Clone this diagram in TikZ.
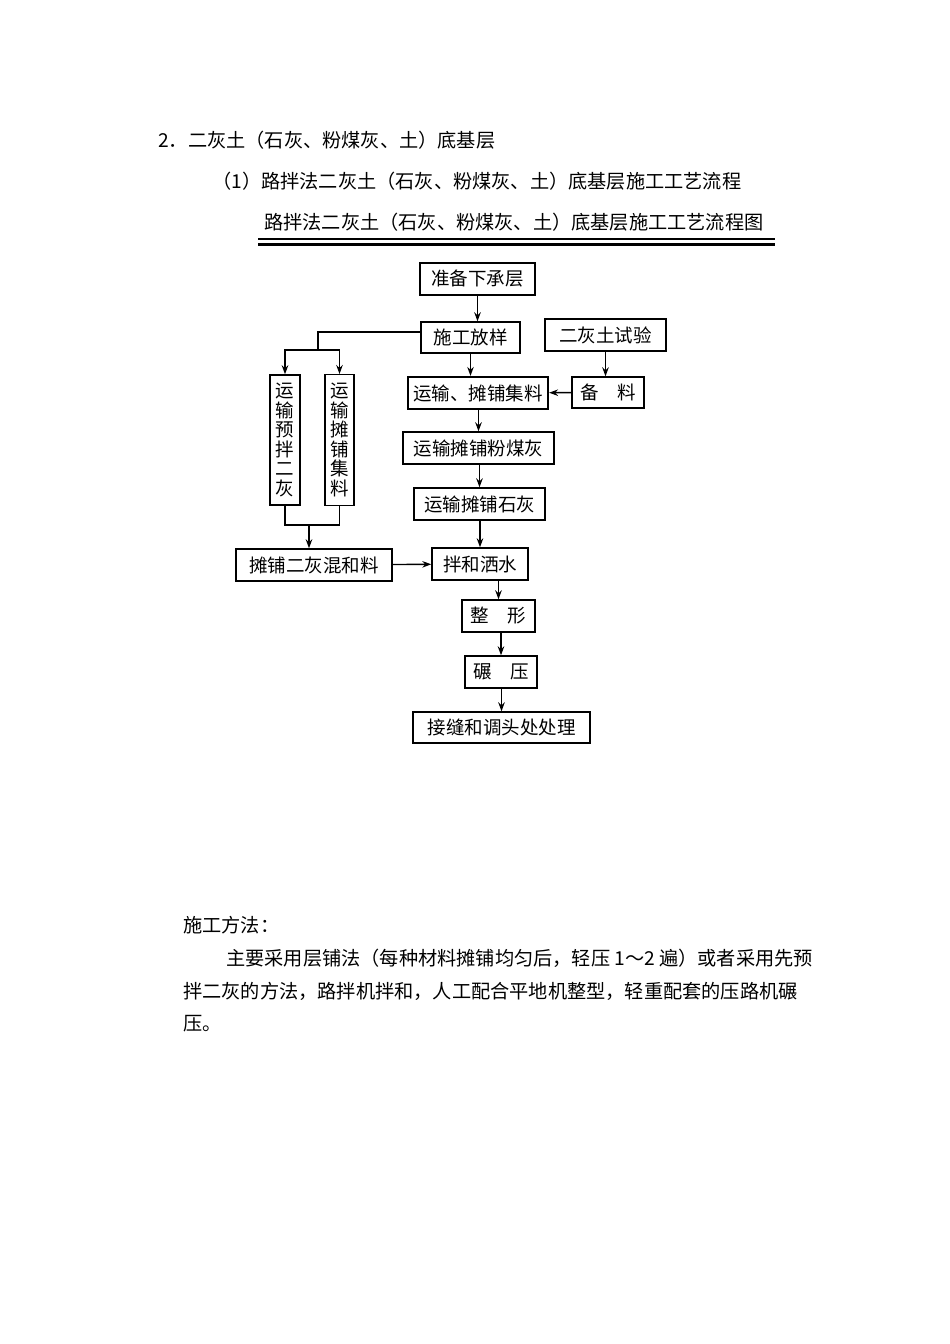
\documentclass[tikz,border=0pt]{standalone}
\usepackage{fontspec}
\setmainfont{Noto Sans CJK SC}
\usetikzlibrary{arrows.meta}
\begin{document}
\begin{tikzpicture}[x=1pt,y=-1pt,
  bx/.style={draw,line width=1.4pt,inner sep=0pt,font=\fontsize{18.5}{18.5}\selectfont},
  txt/.style={anchor=west,inner sep=0pt,font=\fontsize{19.2}{19.2}\selectfont},
  ar/.style={-{Stealth[length=9pt,width=6.5pt]},line width=1.4pt},
  ln/.style={line width=1.4pt}]
\useasboundingbox (0,0) rectangle (950,1344);
\node[txt] (h1) at (158,140) {2．二灰土（石灰、粉煤灰、土）底基层};
\node[txt] (h2) at (212,181) {（1）路拌法二灰土（石灰、粉煤灰、土）底基层施工工艺流程};
\node[txt] (h3) at (264,222) {路拌法二灰土（石灰、粉煤灰、土）底基层施工工艺流程图};
\draw[line width=1.2pt] (258,239) -- (775,239);
\draw[line width=3pt] (258,244) -- (775,244);
\node[bx,minimum width=115,minimum height=32] (a) at (477.5,279) {准备下承层};
\node[bx,minimum width=99,minimum height=31] (b) at (470.5,337.5) {施工放样};
\node[bx,minimum width=121,minimum height=32] (c) at (605.5,335) {二灰土试验};
\node[bx,line width=2.2pt,minimum width=140,minimum height=32] (d) at (478,393) {运输、摊铺集料};
\node[bx,minimum width=72,minimum height=31] (e) at (608,392.5) {备\quad 料};
\node[bx,minimum width=151,minimum height=32] (f) at (478.5,448) {运输摊铺粉煤灰};
\node[bx,minimum width=131,minimum height=32] (g) at (479.5,504) {运输摊铺石灰};
\node[bx,minimum width=96,minimum height=32] (h) at (480,564) {拌和洒水};
\node[bx,minimum width=156,minimum height=32] (k) at (314,565) {摊铺二灰混和料};
\node[bx,minimum width=30,minimum height=130,align=center] (v1) at (285,440) {运\\[1pt]输\\[1pt]预\\[1pt]拌\\[1pt]二\\[1pt]灰};
\node[bx,minimum width=29,minimum height=131,align=center,anchor=north] (v2) at (339.5,374) {运\\[1pt]输\\[1pt]摊\\[1pt]铺\\[1pt]集\\[1pt]料};
\node[bx,minimum width=73,minimum height=32] (m) at (498.5,616) {整\quad 形};
\node[bx,minimum width=72,minimum height=32] (n) at (501,672) {碾\quad 压};
\node[bx,minimum width=177,minimum height=31] (p) at (501.5,727.5) {接缝和调头处处理};
\draw[ar] (a) -- (a|-b.north);
\draw[ar] (b) -- (b|-d.north);
\draw[ar] (c) -- (c|-e.north);
\draw[ar] (e) -- (d);
\draw[ar] (d.south-|f) -- (f);
\draw[ar] (f.south-|g) -- (g);
\draw[ar] (g.south-|h) -- (h);
\draw[ar] (h.south-|m) -- (m);
\draw[ar] (m.south-|n) -- (n);
\draw[ar] (n.south-|p) -- (p);
\draw[ar] (k) -- (h);
\coordinate (t1) at (318,350);
\draw[ln] (b.west|-0,332) -- (318,332) -- (t1);
\draw[ar] (t1) -| (v1.north);
\draw[ar] (t1) -| (v2.north);
\coordinate (t2) at (309,525);
\draw[ln] (v1.south) |- (t2);
\draw[ln] (v2.south) |- (t2);
\draw[ar] (t2) -- (t2|-k.north);
\node[txt] (s1) at (183,925) {施工方法：};
\node[txt] (s2) at (226,958) {主要采用层铺法（每种材料摊铺均匀后，轻压 1～2 遍）或者采用先预};
\node[txt] (s3) at (183,991) {拌二灰的方法，路拌机拌和，人工配合平地机整型，轻重配套的压路机碾};
\node[txt] (s4) at (183,1024) {压。};
\end{tikzpicture}
\end{document}
